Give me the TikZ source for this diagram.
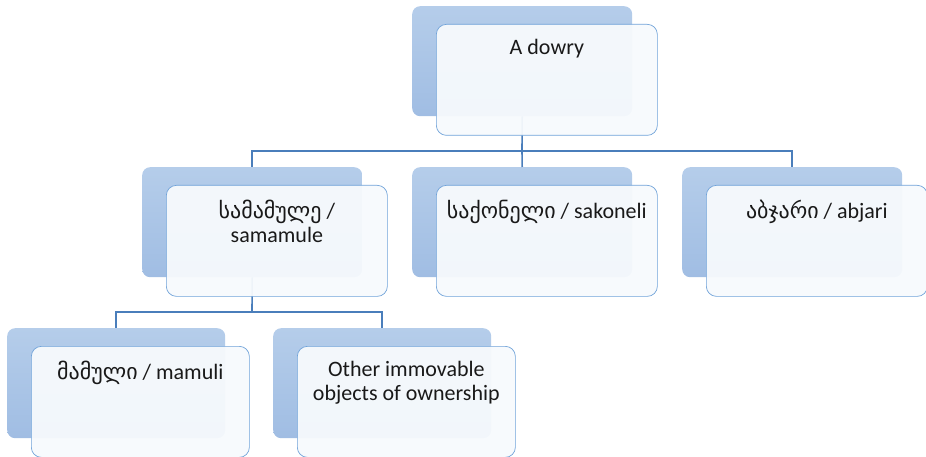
\documentclass[tikz,border=0pt]{standalone}
\usepackage{fontspec}
\setmainfont{Carlito}
\newfontfamily\geofont[Script=Georgian]{DejaVu Sans}
\usetikzlibrary{positioning}
\definecolor{backtop}{RGB}{181,205,234}
\definecolor{backbottom}{RGB}{160,189,227}
\definecolor{frontline}{RGB}{112,163,217}
\definecolor{frontfill}{RGB}{247,250,253}
\definecolor{linkblue}{RGB}{74,126,187}
\definecolor{textgray}{RGB}{25,25,25}
\begin{document}
\begin{tikzpicture}[x=1pt,y=-1pt,
    backbox/.style={anchor=north west, rounded corners=8pt, inner sep=0pt,
      minimum width=220pt, minimum height=110pt,
      top color=backtop, bottom color=backbottom},
    frontbox/.style={rounded corners=10pt, inner sep=0pt,
      minimum width=221pt, minimum height=111pt,
      draw=frontline, line width=0.7pt, fill=frontfill, fill opacity=0.95},
    link/.style={draw=linkblue, line width=1.6pt},
    caption/.style={anchor=north, align=center, inner sep=0pt, text=textgray,
      font=\fontsize{22}{24}\selectfont}]
    \useasboundingbox (0,0) rectangle (926,457);
    % Back panels.
    \node[backbox] (dowry) at (412,6) {};
    \node[backbox] (samamule) at (142,167) {};
    \node[backbox] (sakoneli) at (412,167) {};
    \node[backbox] (abjari) at (682,167) {};
    \node[backbox, minimum width=218pt] (mamuli) at (7,328) {};
    \node[backbox, minimum width=218pt] (other) at (273,328) {};
    % Connectors.
    \coordinate (busA) at (522,151);
    \coordinate (busB) at (252,312);
    \draw[link] (dowry.south) -- (busA);
    \draw[link] (busA) -| (samamule.north);
    \draw[link] (busA) -| (abjari.north);
    \draw[link] (busA) -- (sakoneli.north);
    \draw[link] (samamule.south) -- (busB);
    \draw[link] (busB) -| (mamuli.north);
    \draw[link] (busB) -| (other.north);
    % Front panels.
    \node[frontbox, below right=18pt and 24pt of dowry.north west] (dowryF) {};
    \node[frontbox, below right=18pt and 24pt of samamule.north west] (samamuleF) {};
    \node[frontbox, below right=18pt and 24pt of sakoneli.north west] (sakoneliF) {};
    \node[frontbox, below right=18pt and 24pt of abjari.north west] (abjariF) {};
    \node[frontbox, minimum width=218pt, below right=18pt and 24pt of mamuli.north west] (mamuliF) {};
    \node[frontbox, minimum width=218pt, below right=18pt and 24pt of other.north west] (otherF) {};
    % Texts.
    \node[caption] (dowryT) at ([yshift=-15pt]dowryF.north) {A dowry};
    \node[caption] (samamuleT) at ([yshift=-15pt]samamuleF.north) {{\geofont სამამულე} /\\samamule};
    \node[caption] (sakoneliT) at ([yshift=-15pt]sakoneliF.north) {{\geofont საქონელი} / sakoneli};
    \node[caption] (abjariT) at ([yshift=-15pt]abjariF.north) {{\geofont აბჯარი} / abjari};
    \node[caption] (mamuliT) at ([yshift=-15pt]mamuliF.north) {{\geofont მამული} / mamuli};
    \node[caption] (otherT) at ([yshift=-15pt]otherF.north) {Other immovable\\objects of ownership};
\end{tikzpicture}
\end{document}
